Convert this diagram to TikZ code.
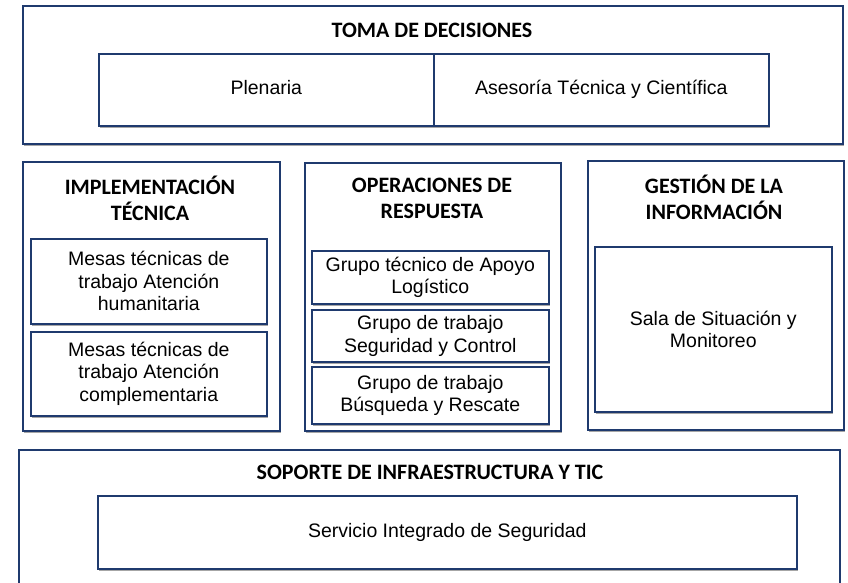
\documentclass[tikz,border=0pt]{standalone}
\usepackage{fontspec}
\setmainfont{Liberation Sans}
\newfontfamily\headfont{Carlito}
\usetikzlibrary{shadows}
\definecolor{navy}{HTML}{1F3A6E}
\begin{document}
\begin{tikzpicture}[x=1pt,y=-1pt,
  box/.style={draw=navy, line width=1.6pt, fill=white,
    drop shadow={shadow xshift=1.5pt, shadow yshift=-2.5pt, fill=black, opacity=0.35},
    anchor=north west, inner sep=0pt},
  head/.style={font=\headfont\bfseries\fontsize{22}{26}\selectfont, align=center, inner sep=0pt},
  body/.style={font=\fontsize{19.5}{22.5}\selectfont, align=center},
  oneline/.style={text height=14pt, text depth=4pt}]
\clip (0,0) rectangle (848,583);
\fill[white] (0,0) rectangle (848,583);
% top
\node[box, minimum width=820pt, minimum height=138pt] (toma) at (22,5) {};
\node[head] (tomaT) at (432,30) {TOMA DE DECISIONES};
\node[box, body, oneline, minimum width=335pt, minimum height=72pt] (plen) at (98,53) {Plenaria};
\node[box, body, oneline, minimum width=335pt, minimum height=72pt] (ases) at (433,53) {Asesoría Técnica y Científica};
% middle
\node[box, minimum width=257pt, minimum height=269pt] (impl) at (22,161) {};
\node[head] (implT) at (150,198) {IMPLEMENTACIÓN\\TÉCNICA};
\node[box, body, minimum width=236pt, minimum height=85pt] (mes1) at (30,238) {Mesas técnicas de\\trabajo Atención\\humanitaria};
\node[box, body, minimum width=236pt, minimum height=84pt] (mes2) at (30,331) {Mesas técnicas de\\trabajo Atención\\complementaria};
\node[box, minimum width=256pt, minimum height=268pt] (oper) at (304,162) {};
\node[head] (operT) at (432,198) {OPERACIONES DE\\RESPUESTA};
\node[box, body, minimum width=237pt, minimum height=53pt] (g1) at (311,250) {Grupo técnico de Apoyo\\Logístico};
\node[box, body, minimum width=237pt, minimum height=52pt] (g2) at (311,309) {Grupo de trabajo\\Seguridad y Control};
\node[box, body, minimum width=237pt, minimum height=57pt] (g3) at (311,366) {Grupo de trabajo\\Búsqueda y Rescate};
\node[box, minimum width=256pt, minimum height=269pt] (gest) at (587,160) {};
\node[head] (gestT) at (714,197) {GESTIÓN DE LA\\INFORMACIÓN};
\node[box, body, minimum width=237pt, minimum height=165pt] (sala) at (594,246) {Sala de Situación y\\Monitoreo};
% bottom
\node[box, minimum width=821pt, minimum height=150pt] (sop) at (18,449) {};
\node[head] (sopT) at (430,472) {SOPORTE DE INFRAESTRUCTURA Y TIC};
\node[box, body, oneline, minimum width=699pt, minimum height=73pt] (serv) at (97,495) {Servicio Integrado de Seguridad};
\end{tikzpicture}
\end{document}
